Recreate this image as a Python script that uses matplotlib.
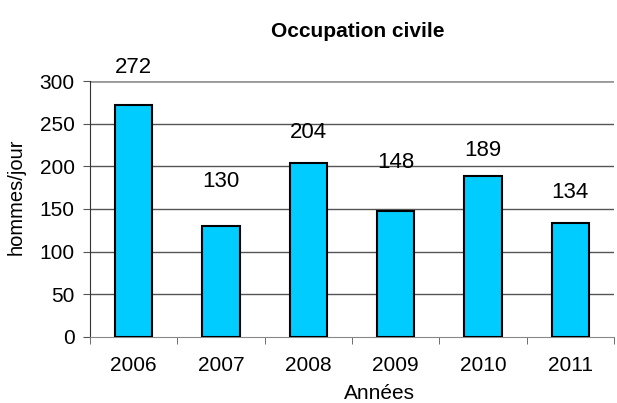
import matplotlib.pyplot as plt

plt.rcParams['font.family'] = ['Liberation Sans', 'DejaVu Sans']

years = ["2006", "2007", "2008", "2009", "2010", "2011"]
values = [272, 130, 204, 148, 189, 134]
label_offsets = [27, 32, 22, 35, 18, 22]  # points above bar top

fig = plt.figure(figsize=(6.17, 4.03), dpi=100)
ax = fig.add_axes([0.1458, 0.1638, 0.8494, 0.6352])

x = list(range(len(years)))
ax.bar(x, values, width=0.43, color="#00CCFF", edgecolor="black", linewidth=1.5, zorder=3)

for xi, v, off in zip(x, values, label_offsets):
    ax.annotate(str(v), (xi, v), xytext=(0, off), textcoords="offset points",
                ha="center", va="center", fontsize=16, annotation_clip=False)

ax.set_xlim(-0.5, len(years) - 0.5)
ax.set_ylim(0, 300)
ax.set_yticks(range(0, 301, 50))
ax.set_xticks(x)
ax.set_xticklabels(years, fontsize=15)
ax.set_xticks([i - 0.5 for i in range(len(years) + 1)], minor=True)
ax.tick_params(axis="x", which="major", length=0, pad=14)
ax.tick_params(axis="x", which="minor", length=5, color="#555555", direction="out")
ax.tick_params(axis="y", labelsize=15, length=5, color="#555555", direction="out", pad=6)

for y in range(50, 300, 50):
    ax.axhline(y, color="#555555", linewidth=1, zorder=1)
ax.axhline(300, color="#999999", linewidth=2, zorder=1)

for s in ["top", "right"]:
    ax.spines[s].set_visible(False)
ax.spines["left"].set_color("#333333")
ax.spines["bottom"].set_color("#888888")

ax.set_ylabel("hommes/jour", fontsize=14.5)
ax.yaxis.set_label_coords(-0.122, 0.547)
ax.set_xlabel("Années", fontsize=15)
ax.xaxis.set_label_coords(0.553, -0.185)
fig.text(0.58, 0.921, "Occupation civile", ha="center", va="center",
         fontsize=15, fontweight="bold")

fig.savefig("out.png", dpi=100)
